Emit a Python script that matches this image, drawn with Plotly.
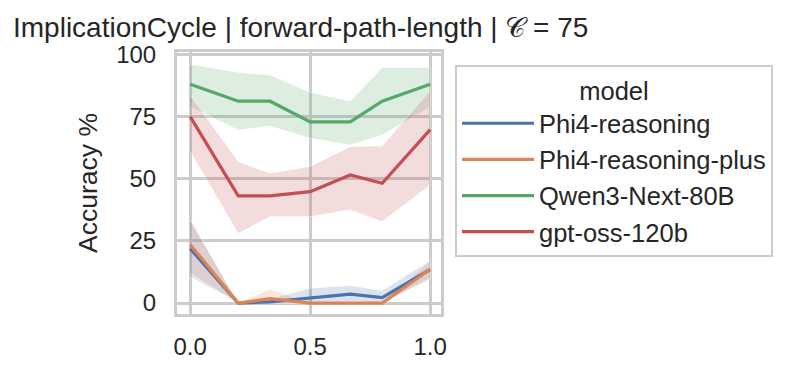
import plotly.graph_objects as go

x_vals = [0.0, 0.2, 0.333, 0.5, 0.667, 0.8, 1.0]

models = ["Phi4-reasoning", "Phi4-reasoning-plus", "Qwen3-Next-80B", "gpt-oss-120b"]
colors = ["#4c72b0", "#dd8452", "#55a868", "#c44e52"]
band_colors = ["rgba(76,114,176,0.2)", "rgba(221,132,82,0.2)", "rgba(85,168,104,0.2)", "rgba(196,78,82,0.2)"]

phi4_mean = [21.9, 0.0, 0.5, 2.1, 3.6, 2.2, 13.5]
phi4_low = [10.7, 0.0, 0.0, 0.0, 0.5, 0.0, 9.5]
phi4_high = [33.5, 0.0, 1.5, 6.0, 7.1, 5.0, 17.1]

plus_mean = [23.5, 0.0, 1.8, 0.0, 0.0, 0.0, 13.6]
plus_low = [12.0, 0.0, 0.0, 0.0, 0.0, 0.0, 10.0]
plus_high = [33.5, 0.0, 5.6, 0.0, 0.0, 0.0, 17.0]

qwen_mean = [88.0, 81.2, 81.2, 72.9, 72.9, 81.2, 88.0]
qwen_low = [79.0, 69.6, 71.2, 66.3, 63.6, 67.6, 79.0]
qwen_high = [96.1, 92.8, 91.7, 84.7, 81.2, 94.8, 94.8]

gpt_mean = [75.0, 43.1, 43.1, 44.8, 51.5, 48.2, 69.8]
gpt_low = [61.0, 28.1, 34.8, 34.8, 37.5, 32.8, 47.5]
gpt_high = [83.6, 56.9, 52.2, 54.9, 62.9, 63.2, 85.5]

y_ticks = [0, 25, 50, 75, 100]
x_ticks = [0.0, 0.5, 1.0]
x_tick_labels = ["0.0", "0.5", "1.0"]

series = [
    (phi4_mean, phi4_low, phi4_high),
    (plus_mean, plus_low, plus_high),
    (qwen_mean, qwen_low, qwen_high),
    (gpt_mean, gpt_low, gpt_high),
]

fig = go.Figure()
for (m, lo, hi), name, bc in zip(series, models, band_colors):
    fig.add_trace(go.Scatter(
        x=x_vals + x_vals[::-1], y=hi + lo[::-1], fill="toself",
        fillcolor=bc, line=dict(color="rgba(255,255,255,0.5)", width=0.8),
        hoverinfo="skip", showlegend=False, mode="lines"))
for (m, lo, hi), name, c in zip(series, models, colors):
    fig.add_trace(go.Scatter(
        x=x_vals, y=m, mode="lines", name=name,
        line=dict(color=c, width=3.2)))

font_main = "Liberation Sans, Arial, sans-serif"
axis_common = dict(
    showgrid=True, gridcolor="#cccccc", gridwidth=2.5,
    showline=True, linecolor="#cccccc", linewidth=3, mirror=True,
    zeroline=False, ticks="", automargin=False,
    tickfont=dict(size=24, color="#262626", family=font_main),
)
fig.update_xaxes(range=[-0.055, 1.045], tickvals=x_ticks, ticktext=x_tick_labels,
                 ticklabelstandoff=9, **axis_common)
fig.update_yaxes(range=[-4.4, 101.0], tickvals=y_ticks, ticklabelstandoff=13, **axis_common,
                 title=dict(text="Accuracy %", font=dict(size=26.5, color="#262626", family=font_main), standoff=11))

W, H = 790, 370
fig.update_layout(
    width=W, height=H,
    margin=dict(l=169, r=W - 433, t=44, b=H - 306, autoexpand=False),
    plot_bgcolor="white", paper_bgcolor="white",
    title=dict(text="ImplicationCycle | forward-path-length | 𝒞 = 75",
               x=5 / W, xanchor="left", xref="container",
               y=1 - 19 / H, yanchor="middle", yref="container", automargin=False,
               font=dict(family=font_main, size=28, color="#262626")),
    legend=dict(
        x=(447 - 169) / 264, y=(306 - 57) / 262, xanchor="left", yanchor="top",
        bordercolor="#cccccc", borderwidth=2, bgcolor="white",
        font=dict(size=25.5, color="#262626", family=font_main),
        title=dict(text="model", side="top center", font=dict(size=25.5, color="#262626", family=font_main)),
        tracegroupgap=0, itemwidth=72,
    ),
    showlegend=True,
)

fig.write_html("out.html")
